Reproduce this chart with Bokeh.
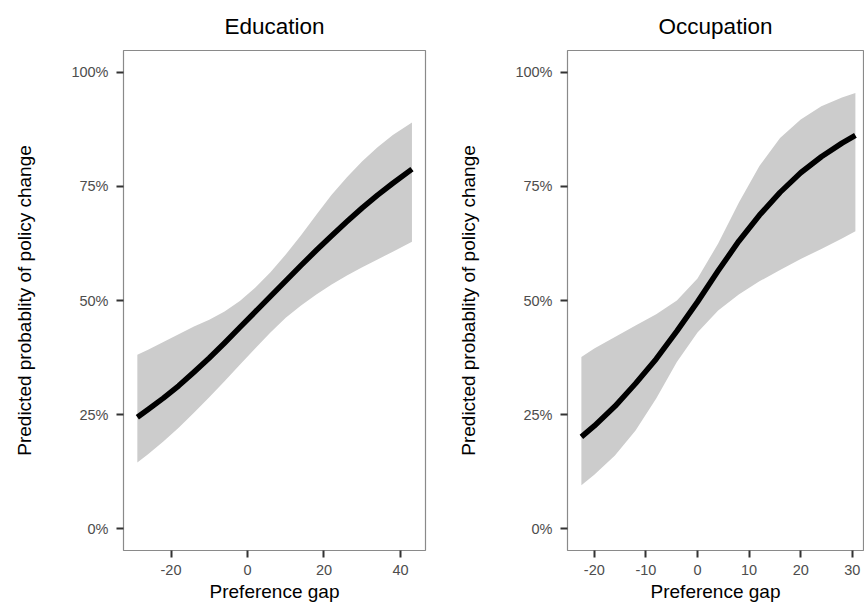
from bokeh.plotting import figure
from bokeh.layouts import row
from bokeh.models import Range1d, FixedTicker, NumeralTickFormatter
from bokeh.embed import file_html
from bokeh.resources import INLINE

# ---- data ----
edu_gap = [-28.8, -26, -22, -18, -14, -10, -6, -2, 2, 6, 10, 14, 18, 22, 26, 30, 34, 38, 43.0]
edu_fit = [0.244, 0.261, 0.286, 0.313, 0.343, 0.374, 0.407, 0.441, 0.475, 0.509, 0.543, 0.577,
           0.610, 0.642, 0.673, 0.703, 0.731, 0.757, 0.788]
edu_lower = [0.145, 0.163, 0.191, 0.221, 0.254, 0.288, 0.323, 0.359, 0.395, 0.430, 0.462, 0.489,
             0.513, 0.535, 0.555, 0.573, 0.590, 0.607, 0.629]
edu_upper = [0.381, 0.392, 0.409, 0.426, 0.443, 0.458, 0.476, 0.499, 0.528, 0.562, 0.601, 0.643,
             0.688, 0.732, 0.770, 0.805, 0.836, 0.863, 0.890]

occ_gap = [-22.5, -20, -16, -12, -8, -4, 0, 4, 8, 12, 16, 20, 24, 28, 30.6]
occ_fit = [0.201, 0.225, 0.268, 0.318, 0.372, 0.433, 0.497, 0.565, 0.630, 0.687, 0.737, 0.780,
           0.815, 0.845, 0.862]
occ_lower = [0.095, 0.118, 0.160, 0.215, 0.285, 0.365, 0.430, 0.478, 0.513, 0.542, 0.567, 0.591,
             0.613, 0.636, 0.652]
occ_upper = [0.376, 0.395, 0.420, 0.445, 0.470, 0.500, 0.548, 0.625, 0.714, 0.795, 0.856, 0.897,
             0.926, 0.945, 0.955]

y_ticks = [0, 0.25, 0.5, 0.75, 1.0]
edu_x_ticks = [-20, 0, 20, 40]
occ_x_ticks = [-20, -10, 0, 10, 20, 30]

FONT = "Liberation Sans"


def panel(title, xs, fit, lo, hi, xr, xticks, border_left, border_right):
    p = figure(width=432, height=604, output_backend="svg", toolbar_location=None,
               x_range=Range1d(*xr), y_range=Range1d(-0.048, 1.048),
               min_border_left=border_left, min_border_right=border_right,
               min_border_top=49, min_border_bottom=54)
    p.title.text = title
    p.title.align = "center"
    p.title.text_font = FONT
    p.title.text_font_size = "22.5px"
    p.title.text_font_style = "normal"
    p.title.text_color = "#000000"
    p.title.standoff = 23

    p.varea(x=xs, y1=lo, y2=hi, fill_color="#CCCCCC", fill_alpha=1.0)
    p.line(x=xs, y=fit, line_color="#000000", line_width=5.5, line_join="round")

    p.grid.visible = False
    p.outline_line_color = "#8A8A8A"
    p.outline_line_width = 1.2
    p.background_fill_color = "white"
    p.border_fill_color = "white"

    for ax in (p.xaxis[0], p.yaxis[0]):
        ax.axis_line_color = None
        ax.major_tick_line_color = "#333333"
        ax.major_tick_line_width = 2
        ax.major_tick_out = 7
        ax.major_tick_in = 0
        ax.minor_tick_line_color = None
        ax.major_label_text_font = FONT
        ax.major_label_text_font_size = "14.5px"
        ax.major_label_text_color = "#4D4D4D"
        ax.axis_label_text_font = FONT
        ax.axis_label_text_font_size = "19px"
        ax.axis_label_text_font_style = "normal"
        ax.axis_label_text_color = "#000000"

    p.xaxis.ticker = FixedTicker(ticks=xticks)
    p.xaxis.formatter = NumeralTickFormatter(format="0")
    p.xaxis.axis_label = "Preference gap"
    p.xaxis.major_label_standoff = 7
    p.xaxis.axis_label_standoff = 3

    p.yaxis.ticker = FixedTicker(ticks=y_ticks)
    p.yaxis.formatter = NumeralTickFormatter(format="0%")
    p.yaxis.axis_label = "Predicted probablity of policy change"
    p.yaxis.major_label_standoff = 8
    p.yaxis.axis_label_standoff = 33
    return p


p1 = panel("Education", edu_gap, edu_fit, edu_lower, edu_upper,
           (-32.42, 46.54), edu_x_ticks, 123, 7)
p2 = panel("Occupation", occ_gap, occ_fit, occ_lower, occ_upper,
           (-25.19, 32.17), occ_x_ticks, 135, 1)

layout = row(p1, p2, spacing=0)
open("out.html", "w").write(file_html(layout, INLINE))
